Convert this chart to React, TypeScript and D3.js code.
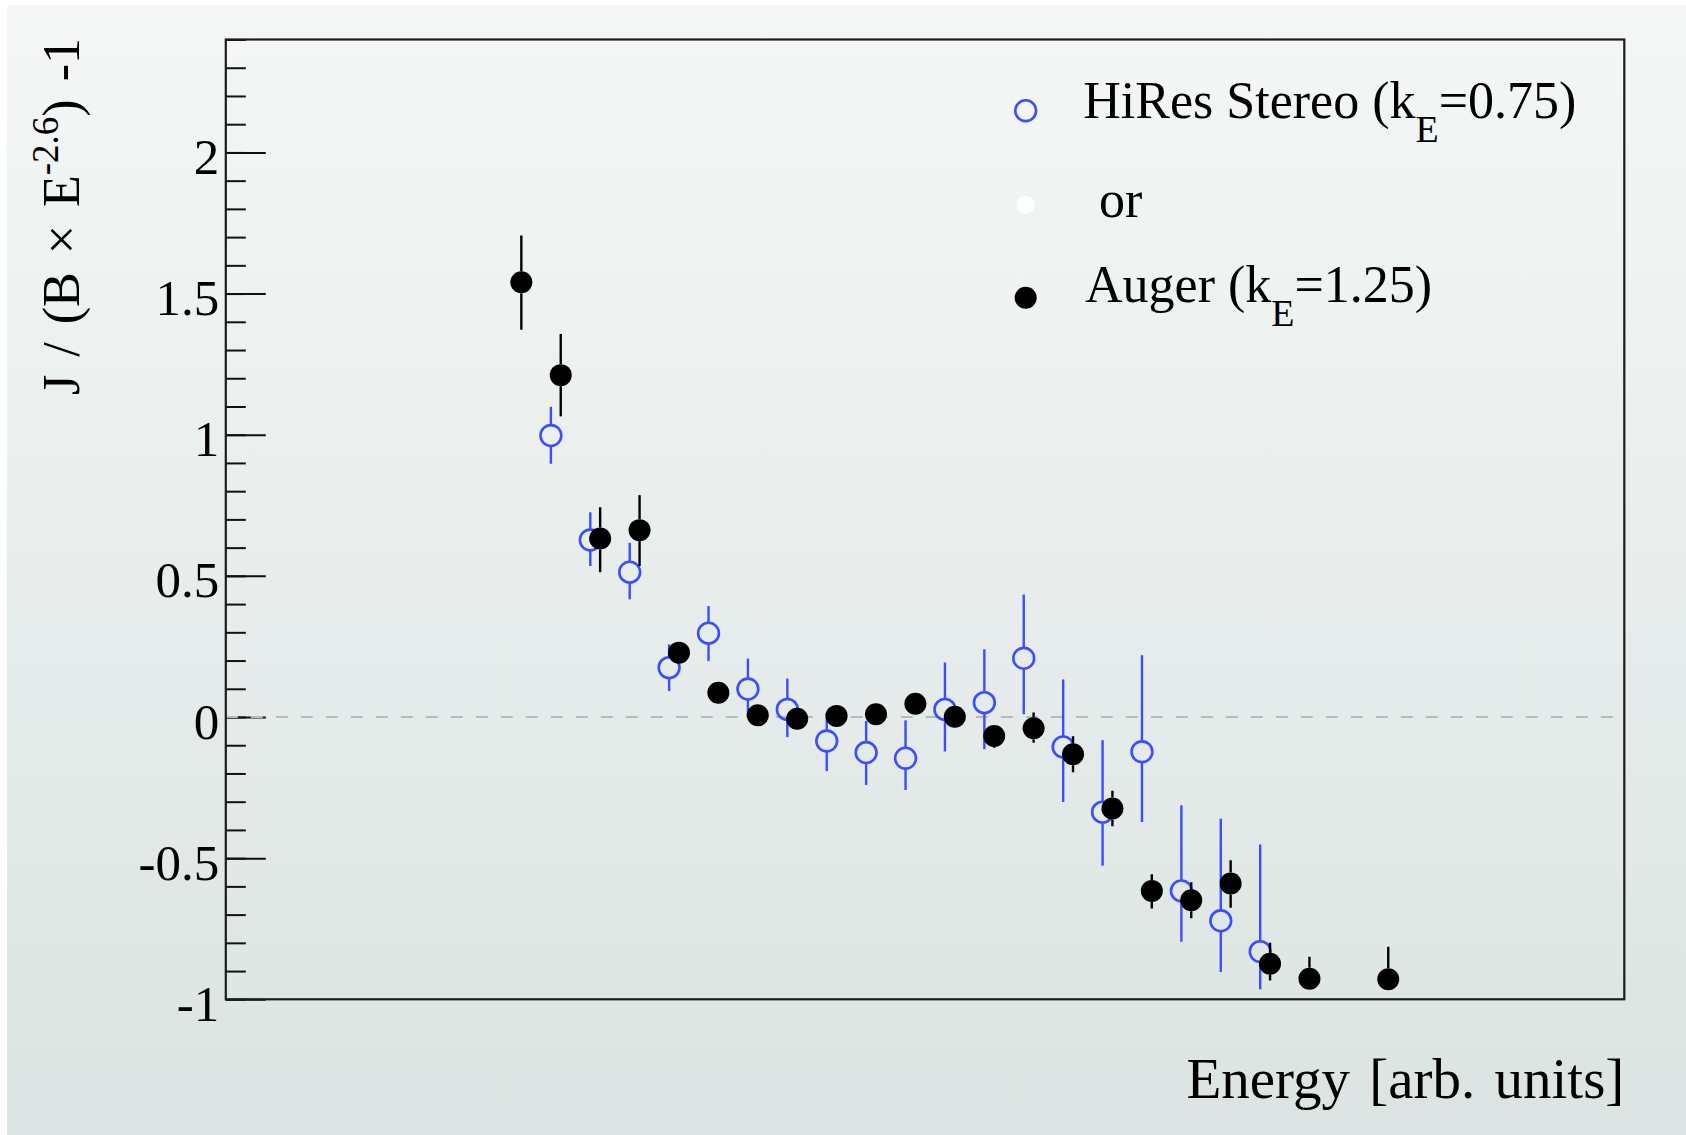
import React, { useEffect, useRef } from 'react'
import * as d3 from 'd3'

// HiRes Stereo (kE = 0.75), open blue circles
const hiresE = [8.25, 9.25, 10.25, 11.25, 12.25, 13.25, 14.25, 15.25, 16.25, 17.25, 18.25, 19.25, 20.25, 21.25, 22.25, 23.25, 24.25, 25.25, 26.25]
const hiresJ = [0.997, 0.627, 0.513, 0.175, 0.297, 0.099, 0.027, -0.085, -0.126, -0.146, 0.027, 0.051, 0.208, -0.106, -0.337, -0.123, -0.616, -0.722, -0.831]
const hiresErrHi = [0.102, 0.098, 0.104, 0.082, 0.096, 0.108, 0.109, 0.10, 0.112, 0.134, 0.166, 0.189, 0.226, 0.239, 0.255, 0.342, 0.303, 0.362, 0.379]
const hiresErrLo = [0.10, 0.092, 0.096, 0.083, 0.099, 0.10, 0.098, 0.106, 0.115, 0.113, 0.149, 0.165, 0.198, 0.195, 0.19, 0.249, 0.18, 0.181, 0.133]

// Auger (kE = 1.25), filled black circles
const augerE = [7.5, 8.5, 9.5, 10.5, 11.5, 12.5, 13.5, 14.5, 15.5, 16.5, 17.5, 18.5, 19.5, 20.5, 21.5, 22.5, 23.5, 24.5, 25.5, 26.5, 27.5, 29.5]
const augerJ = [1.540, 1.211, 0.632, 0.662, 0.228, 0.086, 0.006, -0.006, 0.004, 0.010, 0.047, 0.001, -0.067, -0.040, -0.132, -0.324, -0.616, -0.649, -0.590, -0.874, -0.927, -0.929]
const augerErrHi = [0.166, 0.146, 0.111, 0.124, 0.035, 0.03, 0.03, 0.03, 0.03, 0.03, 0.03, 0.03, 0.035, 0.056, 0.064, 0.063, 0.059, 0.064, 0.083, 0.074, 0.078, 0.115]
const augerErrLo = [0.168, 0.146, 0.119, 0.127, 0.035, 0.03, 0.03, 0.03, 0.03, 0.03, 0.03, 0.03, 0.042, 0.051, 0.064, 0.063, 0.062, 0.064, 0.086, 0.059, 0.035, 0.035]

const yTicks = [-1, -0.5, 0, 0.5, 1, 1.5, 2]
const yTickLabels = ['-1', '-0.5', '0', '0.5', '1', '1.5', '2']
const yDomain = [-1, 2.4]
const xDomain = [0, 35.49]

const legendMain = ['HiRes Stereo (k', ' or', 'Auger (k']
const legendSub = ['E', '', 'E']
const legendTail = ['=0.75)', '', '=1.25)']

const FONT = '"Liberation Serif", "Times New Roman", serif'
const BLUE = '#3b4dff'

function Chart() {
  const node = useRef(null)

  useEffect(() => {
    const svg = d3.select(node.current)
    svg.selectAll('*').remove()

    const left = 225.8, right = 1624.3, top = 39.5, bottom = 999.3

    const x = d3.scaleLinear().domain(xDomain).range([left, right])
    const y = d3.scaleLinear().domain(yDomain).range([bottom, top])

    const defs = svg.append('defs')
    const grad = defs.append('linearGradient').attr('id', 'bg')
      .attr('x1', 0).attr('y1', 0).attr('x2', 0).attr('y2', 1)
    grad.append('stop').attr('offset', '0%').attr('stop-color', '#f5f7f7')
    grad.append('stop').attr('offset', '100%').attr('stop-color', '#dbe4e2')
    defs.append('clipPath').attr('id', 'frame')
      .append('rect').attr('x', left).attr('y', top)
      .attr('width', right - left).attr('height', bottom - top)

    svg.append('rect').attr('width', 1686).attr('height', 1135).attr('fill', '#fff')
    svg.append('rect').attr('x', 7).attr('y', 5).attr('width', 1679).attr('height', 1130)
      .attr('fill', 'url(#bg)')

    // ticks, pointing into the frame
    const minorAxis = svg.append('g').attr('transform', `translate(${left},0)`)
      .call(d3.axisRight(y).ticks(34).tickSize(20).tickFormat(() => ''))
    const majorAxis = svg.append('g').attr('transform', `translate(${left},0)`)
      .call(d3.axisRight(y).tickValues(yTicks).tickSize(40).tickFormat(() => ''))
    ;[minorAxis, majorAxis].forEach(g => {
      g.select('.domain').remove()
      g.selectAll('line').attr('stroke', '#111').attr('stroke-width', 2)
    })

    const labels = svg.append('g').attr('transform', `translate(${left},0)`)
      .call(d3.axisLeft(y).tickValues(yTicks).tickSize(0).tickPadding(6.5)
        .tickFormat((d, i) => yTickLabels[i]))
    labels.select('.domain').remove()
    labels.selectAll('text')
      .attr('dy', '21px')
      .attr('fill', '#000')
      .style('font-family', FONT)
      .style('font-size', '51px')

    // zero line
    svg.append('line')
      .attr('x1', left).attr('x2', right).attr('y1', y(0)).attr('y2', y(0))
      .attr('stroke', '#b3bebc').attr('stroke-width', 2).attr('stroke-dasharray', '12,13')

    // frame
    svg.append('rect').attr('x', left).attr('y', top)
      .attr('width', right - left).attr('height', bottom - top)
      .attr('fill', 'none').attr('stroke', '#1c1c1c').attr('stroke-width', 2.2)

    const plot = svg.append('g').attr('clip-path', 'url(#frame)')
    const r = 11

    function drawSeries(xs, vs, eHi, eLo, color, open) {
      const g = plot.append('g')
      xs.forEach((xv, i) => {
        const cx = x(xv), cy = y(vs[i])
        const yHi = y(vs[i] + eHi[i]), yLo = y(vs[i] - eLo[i])
        if (yHi < cy - r) {
          g.append('line').attr('x1', cx).attr('x2', cx).attr('y1', yHi).attr('y2', cy - r)
            .attr('stroke', color).attr('stroke-width', 2.4)
        }
        if (yLo > cy + r) {
          g.append('line').attr('x1', cx).attr('x2', cx).attr('y1', cy + r).attr('y2', yLo)
            .attr('stroke', color).attr('stroke-width', 2.4)
        }
      })
      g.selectAll('circle').data(xs).enter().append('circle')
        .attr('cx', d => x(d))
        .attr('cy', (d, i) => y(vs[i]))
        .attr('r', open ? r - 0.6 : r)
        .attr('fill', open ? 'none' : color)
        .attr('stroke', open ? color : 'none')
        .attr('stroke-width', open ? 2.6 : 0)
    }

    drawSeries(hiresE, hiresJ, hiresErrHi, hiresErrLo, BLUE, true)
    drawSeries(augerE, augerJ, augerErrHi, augerErrLo, '#000', false)

    // legend
    const legY = [110.7, 205, 297.7]
    const baseY = [118.3, 216.7, 302.3]
    const textX = [1083.3, 1086, 1085]
    const leg = svg.append('g')
    leg.append('circle').attr('cx', 1025.7).attr('cy', legY[0]).attr('r', r - 0.6)
      .attr('fill', 'none').attr('stroke', BLUE).attr('stroke-width', 2.6)
    leg.append('circle').attr('cx', 1025.7).attr('cy', legY[1]).attr('r', 9).attr('fill', '#fff')
    leg.append('circle').attr('cx', 1025.7).attr('cy', legY[2]).attr('r', r).attr('fill', '#000')

    legendMain.forEach((txt, i) => {
      const t = leg.append('text').attr('x', textX[i]).attr('y', baseY[i])
        .style('font-family', FONT).style('font-size', '52px').attr('fill', '#000')
        .attr('xml:space', 'preserve')
      t.append('tspan').text(txt)
      if (legendSub[i]) {
        t.append('tspan').attr('dy', 24).style('font-size', '38px').text(legendSub[i])
        t.append('tspan').attr('dy', -24).text(legendTail[i])
      }
    })

    // axis titles
    const yt = svg.append('text')
      .attr('transform', 'translate(78.5,38) rotate(-90)')
      .attr('text-anchor', 'end')
      .style('font-family', FONT).style('font-size', '52px').style('word-spacing', '5px')
      .attr('fill', '#000')
    yt.append('tspan').text('J / (B \u00d7 E')
    yt.append('tspan').attr('dy', -21).style('font-size', '37px').text('-2.6')
    yt.append('tspan').attr('dy', 21).text(') -1')

    svg.append('text')
      .attr('x', right).attr('y', 1098)
      .attr('text-anchor', 'end')
      .style('font-family', FONT).style('font-size', '57px').style('word-spacing', '5px')
      .attr('fill', '#000')
      .text('Energy [arb. units]')
  }, [])

  return (
    <svg ref={node} width={1686} height={1135}
      style={{ position: 'absolute', left: 0, top: 0, display: 'block' }} />
  )
}

export default function App() {
  return <Chart />
}
